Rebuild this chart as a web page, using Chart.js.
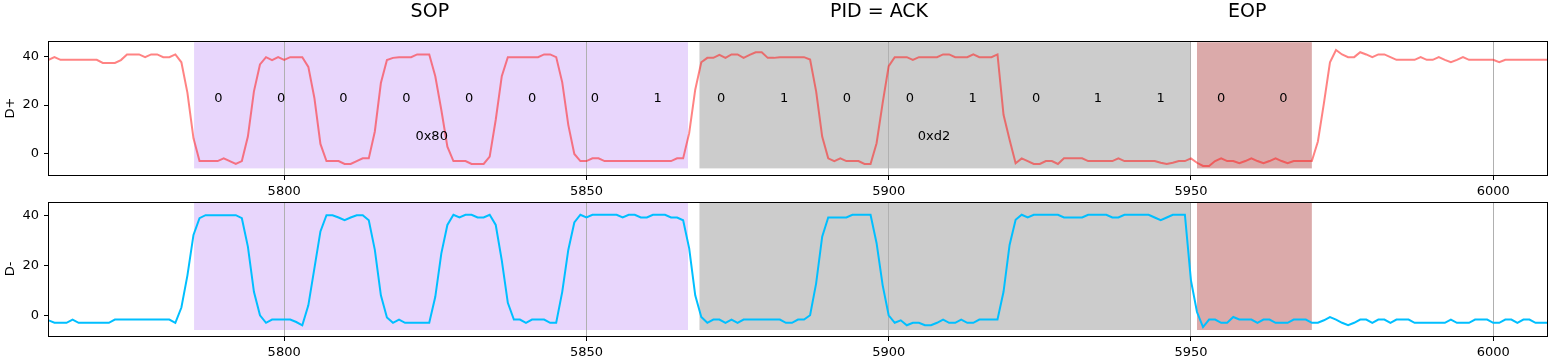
<!DOCTYPE html>
<html>
<head>
<meta charset="utf-8">
<script src="https://cdn.jsdelivr.net/npm/chart.js@4/dist/chart.umd.min.js"></script>
<style>
  html, body { margin: 0; padding: 0; background: #fff; }
  #wrap { position: relative; width: 1556px; height: 361px; }
  #wrap canvas { position: absolute; left: 0; }
  #top { top: 0; }
  #bottom { top: 196px; }
</style>
</head>
<body>
<div id="wrap">
  <canvas id="top" width="1556" height="200"></canvas>
  <canvas id="bottom" width="1556" height="165"></canvas>
</div>
<script>
// ---- data ----
const firstSample = 5761;   // x of the first sample, one sample per unit

const dPlus = [
  38.5, 39.6, 38.5, 38.5, 38.5, 38.5, 38.5, 38.5, 38.5, 37.2,
  37.2, 37.2, 38.4, 40.7, 40.7, 40.7, 39.6, 40.7, 40.7, 39.6,
  39.6, 40.7, 37.5, 25, 6.4, -2.9, -2.9, -2.9, -2.9, -1.8,
  -2.9, -4.1, -2.9, 7.1, 25.6, 36.6, 39.6, 38.4, 39.6, 38.5,
  39.6, 39.6, 39.6, 35.6, 22.9, 4.1, -2.9, -2.9, -2.9, -4.1,
  -4.1, -2.9, -1.8, -1.8, 9.2, 29, 38.4, 39.3, 39.6, 39.6,
  39.6, 40.7, 40.7, 40.7, 31.8, 18, 3, -2.9, -2.9, -2.9,
  -4.1, -4.1, -4.1, -1.1, 14, 31.8, 39.6, 39.6, 39.6, 39.6,
  39.6, 39.6, 40.7, 40.7, 39.6, 29.3, 11.9, 0, -2.9, -2.9,
  -1.8, -1.8, -2.9, -2.9, -2.9, -2.9, -2.9, -2.9, -2.9, -2.9,
  -2.9, -2.9, -2.9, -2.9, -1.8, -1.8, 8.5, 26.3, 37.5, 39.3,
  39.3, 40.5, 39.3, 40.7, 40.7, 39.3, 40.5, 41.6, 41.6, 39.3,
  39.3, 39.6, 39.6, 39.6, 39.6, 39.6, 38.6, 25.6, 7.1, -1.8,
  -2.9, -1.8, -2.9, -2.9, -2.9, -4.1, -4.1, 4.4, 20.8, 35.9,
  39.6, 39.6, 39.6, 38.5, 39.6, 39.6, 39.6, 39.6, 40.7, 40.7,
  39.6, 39.6, 39.6, 40.7, 39.6, 39.6, 39.6, 40.7, 16, 5.8,
  -3.8, -1.8, -2.9, -4.1, -4.1, -2.9, -2.9, -4.1, -1.8, -1.8,
  -1.8, -1.8, -2.9, -2.9, -2.9, -2.9, -2.9, -1.8, -2.9, -2.9,
  -2.9, -2.9, -2.9, -2.9, -3.6, -4.1, -3.6, -2.9, -2.9, -1.8,
  -3.6, -4.9, -4.9, -2.9, -1.8, -2.9, -2.9, -3.8, -2.9, -1.8,
  -2.9, -3.8, -2.9, -1.8, -2.9, -3.8, -2.9, -2.9, -2.9, -2.9,
  5.1, 20.8, 37.5, 42.5, 40.7, 39.6, 39.6, 41.6, 40.7, 39.6,
  40.7, 40.7, 39.6, 38.5, 38.5, 38.5, 38.5, 39.6, 38.5, 38.5,
  39.6, 38.5, 37.5, 38.5, 39.6, 38.5, 38.5, 38.5, 38.5, 38.5,
  37.5, 38.5, 38.5, 38.5, 38.5, 38.5, 38.5, 38.5, 38.5
];

const dMinus = [
  -2, -3, -3, -3, -1.7, -3, -3, -3, -3, -3,
  -3, -1.7, -1.7, -1.7, -1.7, -1.7, -1.7, -1.7, -1.7, -1.7,
  -1.7, -3, 3.1, 16, 32.2, 38.9, 40.1, 40.1, 40.1, 40.1,
  40.1, 40.1, 38.9, 27.5, 9.4, 0, -3, -1.7, -1.7, -1.7,
  -1.7, -2.7, -4, 4, 18.8, 33.6, 40.1, 40.1, 39.2, 38.1,
  39.2, 40.1, 40.1, 38.1, 26.2, 8, -0.9, -3, -1.7, -3,
  -3, -3, -3, -3, 7.4, 24.8, 36.2, 40.3, 39.2, 40.3,
  40.3, 39.2, 39.2, 40.3, 36.2, 22, 5, -1.7, -1.7, -3,
  -1.7, -1.7, -1.7, -3, -3, 9.4, 26.2, 37.2, 40.3, 39.2,
  40.3, 40.3, 40.3, 40.3, 40.3, 39.2, 40.3, 40.3, 39.2, 39.2,
  40.3, 40.3, 40.3, 39.2, 39.2, 38.1, 26.8, 8, -0.7, -3,
  -1.7, -1.7, -3, -1.7, -3, -1.7, -1.7, -1.7, -1.7, -1.7,
  -1.7, -1.7, -3, -3, -1.7, -1.7, 0, 12.8, 31.5, 39.2,
  39.2, 39.2, 39.2, 40.3, 40.3, 40.3, 40.3, 28.9, 12.1, 0,
  -3, -2, -4, -3, -3, -4, -4, -3, -1.7, -3,
  -3, -1.7, -3, -3, -1.7, -1.7, -1.7, -1.7, 9.4, 28.2,
  38.3, 40.3, 39.2, 40.3, 40.3, 40.3, 40.3, 40.3, 39.2, 39.2,
  39.2, 39.2, 40.3, 40.3, 40.3, 40.3, 39.2, 39.2, 40.3, 40.3,
  40.3, 40.3, 40.3, 39.2, 38.1, 39.2, 40.3, 40.3, 40.3, 14,
  1.3, -4.7, -1.7, -1.7, -3, -3, -0.7, -1.7, -1.7, -1.7,
  -3, -1.7, -1.7, -3, -3, -3, -1.7, -1.7, -1.7, -3,
  -3, -2, -0.7, -1.7, -3, -4, -3, -1.7, -1.7, -3,
  -1.7, -1.7, -3, -1.7, -1.7, -1.7, -3, -3, -3, -3,
  -3, -3, -1.7, -3, -3, -3, -1.7, -1.7, -1.7, -3,
  -3, -1.7, -1.7, -3, -1.7, -1.7, -3, -3, -3
];

// packet fields: shaded spans
const fieldNames = ['SOP', 'PID = ACK', 'EOP'];
const fieldStart = [5785.1, 5868.7, 5951.0];
const fieldEnd = [5866.8, 5950.0, 5970.0];
const fieldTitleX = [5824.1, 5898.4, 5959.3];
const fieldLow = -5.9;
const fieldHigh = 45.7;

// decoded bits
const bitLabels = ['0','0','0','0','0','0','0','1', '0','1','0','0','1','0','1','1', '0','0'];
const bitX = [5789.1, 5799.5, 5809.8, 5820.2, 5830.6, 5841.0, 5851.4, 5861.8,
              5872.3, 5882.7, 5893.1, 5903.5, 5913.9, 5924.4, 5934.6, 5945.0,
              5955.0, 5965.3];
const bitY = 22.5;

const byteLabels = ['0x80', '0xd2'];
const byteX = [5824.4, 5907.5];
const byteY = 7.1;

const xTicks = [5800, 5850, 5900, 5950, 6000];
const yTicks = [0, 20, 40];
const xRange = [5761.1, 6008.9];

// ---- drawing ----
const fieldColors = ['rgb(232,214,252)', 'rgb(204,204,204)', 'rgb(219,170,170)'];
const FONT = '"DejaVu Sans", sans-serif';

Chart.defaults.font.family = FONT;
Chart.defaults.font.size = 13;
Chart.defaults.color = '#000';

const decor = {
  id: 'decor',
  beforeDraw(chart, args, opts) {
    const { ctx, chartArea: a, scales: { x, y } } = chart;
    ctx.save();
    ctx.beginPath();
    ctx.rect(a.left, a.top, a.right - a.left, a.bottom - a.top);
    ctx.clip();
    fieldStart.forEach((s, i) => {
      const l = x.getPixelForValue(s);
      const r = x.getPixelForValue(fieldEnd[i]);
      const t = y.getPixelForValue(fieldHigh);
      const b = y.getPixelForValue(fieldLow);
      ctx.fillStyle = fieldColors[i];
      ctx.fillRect(l, t, r - l, b - t);
    });
    ctx.restore();
  },
  afterDatasetsDraw(chart, args, opts) {
    if (!opts.texts) return;
    const { ctx, scales: { x, y } } = chart;
    ctx.save();
    ctx.fillStyle = '#000';
    ctx.textAlign = 'center';
    ctx.textBaseline = 'middle';
    ctx.font = '13px ' + FONT;
    bitLabels.forEach((b, i) => {
      ctx.fillText(b, x.getPixelForValue(bitX[i]), y.getPixelForValue(bitY));
    });
    byteLabels.forEach((b, i) => {
      ctx.fillText(b, x.getPixelForValue(byteX[i]), y.getPixelForValue(byteY));
    });
    ctx.font = '19px ' + FONT;
    fieldNames.forEach((n, i) => {
      ctx.fillText(n, x.getPixelForValue(fieldTitleX[i]), 12);
    });
    ctx.restore();
  },
  afterDraw(chart, args, opts) {
    const { ctx, chartArea: a } = chart;
    ctx.save();
    ctx.strokeStyle = '#000';
    ctx.lineWidth = 1;
    ctx.strokeRect(Math.round(a.left) - 0.5, Math.round(a.top) + 0.5,
                   Math.round(a.right - a.left) + 1, Math.round(a.bottom - a.top));
    ctx.translate(11, (a.top + a.bottom) / 2);
    ctx.rotate(-Math.PI / 2);
    ctx.fillStyle = '#000';
    ctx.textAlign = 'center';
    ctx.textBaseline = 'middle';
    ctx.font = '13px ' + FONT;
    ctx.fillText(opts.label, 0, 0);
    ctx.restore();
  }
};

function makeChart(id, values, color, yMin, yMax, padTop, axisH, label, texts) {
  const points = values.map((v, i) => ({ x: firstSample + i, y: v }));
  return new Chart(document.getElementById(id), {
    type: 'line',
    data: {
      datasets: [{
        data: points,
        borderColor: color,
        borderWidth: 2,
        pointRadius: 0,
        tension: 0,
        fill: false
      }]
    },
    options: {
      responsive: false,
      animation: false,
      devicePixelRatio: 1,
      layout: { padding: { top: padTop, right: 9, left: 0, bottom: 0 } },
      plugins: {
        legend: { display: false },
        tooltip: { enabled: false },
        decor: { label: label, texts: texts }
      },
      scales: {
        x: {
          type: 'linear',
          min: xRange[0],
          max: xRange[1],
          afterBuildTicks: s => { s.ticks = xTicks.map(v => ({ value: v })); },
          afterFit: s => { s.height = axisH; s.paddingLeft = 0; s.paddingRight = 0; },
          ticks: { padding: 4, maxRotation: 0, callback: v => String(v) },
          grid: { color: '#b0b0b0', lineWidth: 1, tickColor: '#000', tickLength: 5 },
          border: { display: false }
        },
        y: {
          min: yMin,
          max: yMax,
          afterBuildTicks: s => { s.ticks = yTicks.map(v => ({ value: v })); },
          afterFit: s => { s.width = 49; s.paddingTop = 0; s.paddingBottom = 0; },
          ticks: { padding: 5 },
          grid: { drawOnChartArea: false, tickColor: '#000', tickLength: 5 },
          border: { display: false }
        }
      }
    },
    plugins: [decor]
  });
}

makeChart('top', dPlus, 'rgba(255,30,30,0.55)', -8.6, 46.2, 41, 25, 'D+', true);
makeChart('bottom', dMinus, '#00bfff', -8.3, 45.4, 6, 25, 'D-', false);
</script>
</body>
</html>
